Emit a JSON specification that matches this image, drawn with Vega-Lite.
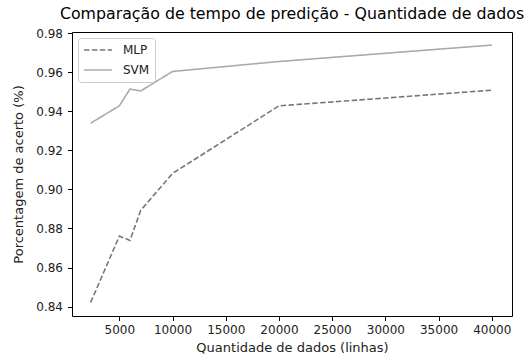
{
  "$schema": "https://vega.github.io/schema/vega-lite/v6.json",
  "width": 440,
  "height": 284,
  "autosize": "none",
  "padding": {"left": 72, "top": 32, "right": 13, "bottom": 42},
  "background": "white",
  "title": {"text": "Comparação de tempo de predição - Quantidade de dados", "font": "DejaVu Sans", "fontSize": 15.8, "fontWeight": "normal", "color": "#000000", "anchor": "middle", "offset": 4},
  "config": {
    "view": {"stroke": "#000000", "strokeWidth": 1},
    "font": "DejaVu Sans"
  },
  "data": {
    "values": [
      {"linhas": 2300, "acerto": 0.8421, "modelo": "MLP"},
      {"linhas": 5000, "acerto": 0.8761, "modelo": "MLP"},
      {"linhas": 6000, "acerto": 0.8739, "modelo": "MLP"},
      {"linhas": 7000, "acerto": 0.8892, "modelo": "MLP"},
      {"linhas": 10000, "acerto": 0.9082, "modelo": "MLP"},
      {"linhas": 20000, "acerto": 0.9428, "modelo": "MLP"},
      {"linhas": 40000, "acerto": 0.9508, "modelo": "MLP"},
      {"linhas": 2300, "acerto": 0.9339, "modelo": "SVM"},
      {"linhas": 5000, "acerto": 0.9428, "modelo": "SVM"},
      {"linhas": 6000, "acerto": 0.9514, "modelo": "SVM"},
      {"linhas": 7000, "acerto": 0.9504, "modelo": "SVM"},
      {"linhas": 10000, "acerto": 0.9604, "modelo": "SVM"},
      {"linhas": 20000, "acerto": 0.9655, "modelo": "SVM"},
      {"linhas": 40000, "acerto": 0.9739, "modelo": "SVM"}
    ]
  },
  "mark": {"type": "line", "strokeWidth": 1.6},
  "encoding": {
    "x": {
      "field": "linhas", "type": "quantitative",
      "scale": {"domain": [550, 41900], "nice": false, "zero": false},
      "axis": {"values": [5000, 10000, 15000, 20000, 25000, 30000, 35000, 40000], "format": "d", "grid": false, "domain": false, "tickColor": "#000000", "tickSize": 4.5, "labelFont": "DejaVu Sans", "labelFontSize": 12, "labelColor": "#222222", "labelPadding": 4, "title": "Quantidade de dados (linhas)", "titleFont": "DejaVu Sans", "titleFontSize": 13, "titleFontWeight": "normal", "titleColor": "#222222", "titlePadding": 6}
    },
    "y": {
      "field": "acerto", "type": "quantitative",
      "scale": {"domain": [0.8352, 0.9806], "nice": false, "zero": false},
      "axis": {"values": [0.84, 0.86, 0.88, 0.9, 0.92, 0.94, 0.96, 0.98], "format": ".2f", "grid": false, "domain": false, "tickColor": "#000000", "tickSize": 4.5, "labelFont": "DejaVu Sans", "labelFontSize": 12, "labelColor": "#222222", "labelPadding": 5, "title": "Porcentagem de acerto (%)", "titleFont": "DejaVu Sans", "titleFontSize": 13, "titleFontWeight": "normal", "titleColor": "#222222", "titlePadding": 10}
    },
    "color": {
      "field": "modelo", "type": "nominal",
      "scale": {"domain": ["MLP", "SVM"], "range": ["#777777", "#aaaaaa"]},
      "legend": {"title": null, "orient": "top-left", "offset": 6, "symbolType": "stroke", "symbolSize": 784, "symbolStrokeWidth": 1.6, "clipHeight": 14, "labelFont": "DejaVu Sans", "labelFontSize": 12, "labelColor": "#222222", "labelOffset": 10, "strokeColor": "#cccccc", "fillColor": "white", "cornerRadius": 3, "padding": 5, "rowPadding": 6}
    },
    "strokeDash": {
      "field": "modelo", "type": "nominal",
      "scale": {"domain": ["MLP", "SVM"], "range": [[5.5, 2.4], [1, 0]]},
      "legend": {"title": null, "orient": "top-left", "offset": 6, "symbolType": "stroke", "symbolSize": 784, "symbolStrokeWidth": 1.6, "clipHeight": 14, "labelFont": "DejaVu Sans", "labelFontSize": 12, "labelColor": "#222222", "labelOffset": 10, "strokeColor": "#cccccc", "fillColor": "white", "cornerRadius": 3, "padding": 5, "rowPadding": 6}
    }
  }
}
